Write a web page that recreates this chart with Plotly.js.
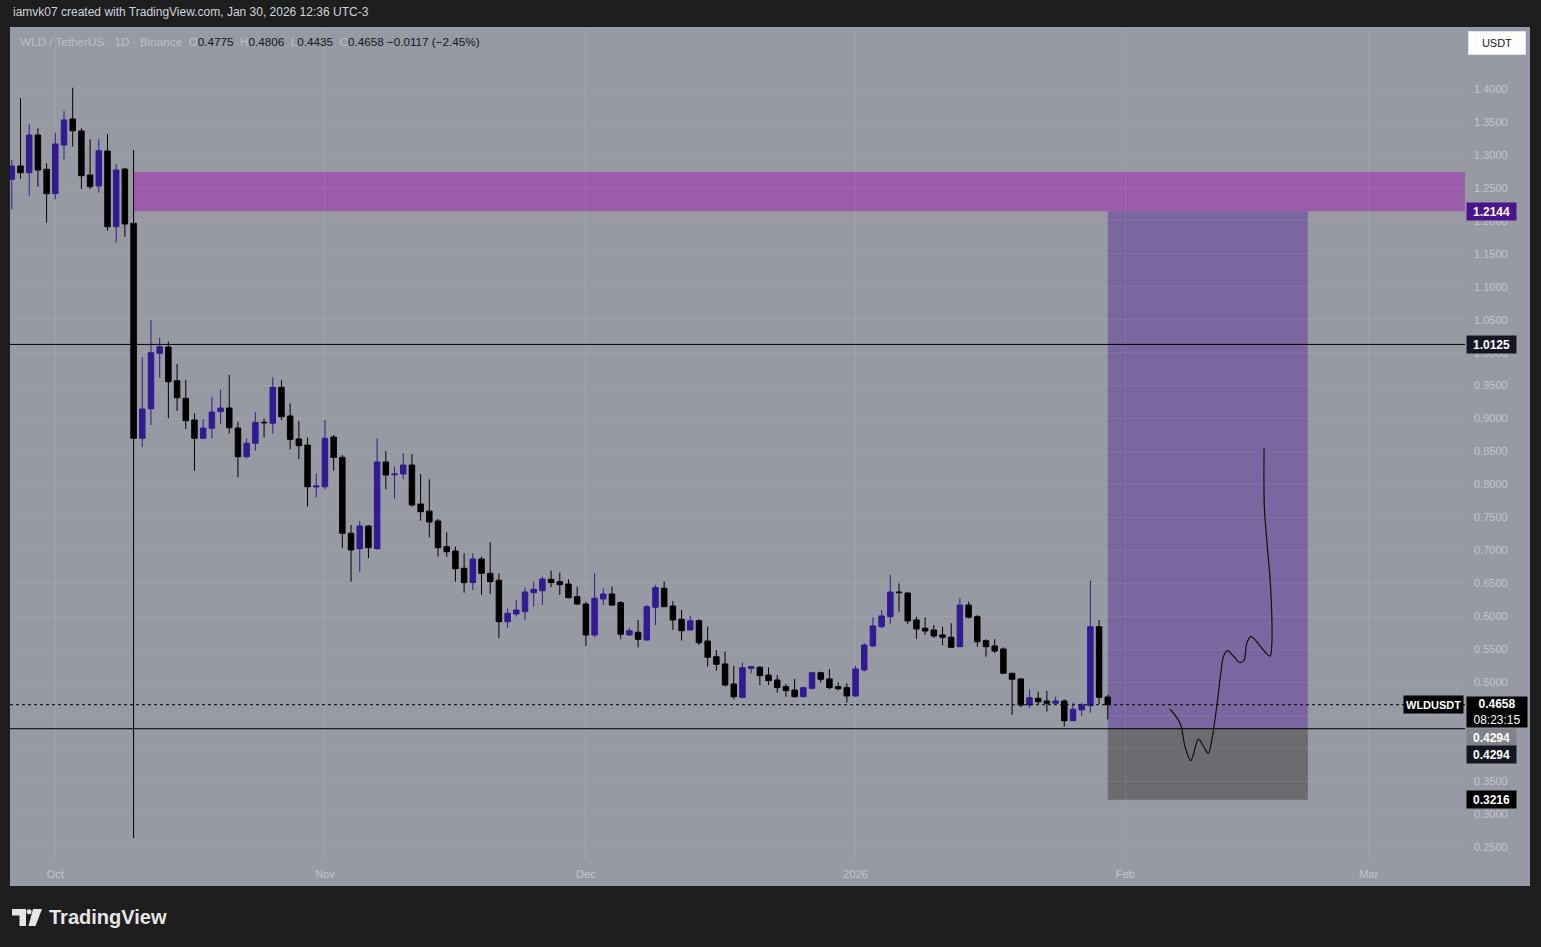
<!DOCTYPE html>
<html><head><meta charset="utf-8">
<script src="https://cdn.plot.ly/plotly-3.0.1.min.js"></script>
<style>html,body{margin:0;padding:0;background:#1e1e1e;overflow:hidden}#chart{width:1541px;height:947px}</style>
</head><body><div id="chart"></div>
<script>
// ---- data ----
const dates = ['2025-09-26','2025-09-27','2025-09-28','2025-09-29','2025-09-30',
'2025-10-01','2025-10-02','2025-10-03','2025-10-04','2025-10-05','2025-10-06','2025-10-07','2025-10-08','2025-10-09','2025-10-10',
'2025-10-11','2025-10-12','2025-10-13','2025-10-14','2025-10-15','2025-10-16','2025-10-17','2025-10-18','2025-10-19','2025-10-20',
'2025-10-21','2025-10-22','2025-10-23','2025-10-24','2025-10-25','2025-10-26','2025-10-27','2025-10-28','2025-10-29','2025-10-30','2025-10-31',
'2025-11-01','2025-11-02','2025-11-03','2025-11-04','2025-11-05','2025-11-06','2025-11-07','2025-11-08','2025-11-09','2025-11-10',
'2025-11-11','2025-11-12','2025-11-13','2025-11-14','2025-11-15','2025-11-16','2025-11-17','2025-11-18','2025-11-19','2025-11-20',
'2025-11-21','2025-11-22','2025-11-23','2025-11-24','2025-11-25','2025-11-26','2025-11-27','2025-11-28','2025-11-29','2025-11-30',
'2025-12-01','2025-12-02','2025-12-03','2025-12-04','2025-12-05','2025-12-06','2025-12-07','2025-12-08','2025-12-09','2025-12-10',
'2025-12-11','2025-12-12','2025-12-13','2025-12-14','2025-12-15','2025-12-16','2025-12-17','2025-12-18','2025-12-19','2025-12-20',
'2025-12-21','2025-12-22','2025-12-23','2025-12-24','2025-12-25','2025-12-26','2025-12-27','2025-12-28','2025-12-29','2025-12-30','2025-12-31',
'2026-01-01','2026-01-02','2026-01-03','2026-01-04','2026-01-05','2026-01-06','2026-01-07','2026-01-08','2026-01-09','2026-01-10',
'2026-01-11','2026-01-12','2026-01-13','2026-01-14','2026-01-15','2026-01-16','2026-01-17','2026-01-18','2026-01-19','2026-01-20',
'2026-01-21','2026-01-22','2026-01-23','2026-01-24','2026-01-25','2026-01-26','2026-01-27','2026-01-28','2026-01-29','2026-01-30'];

const open = [1.2630,1.2832,1.2730,1.3302,1.2782,
1.2412,1.3150,1.3545,1.3363,1.2695,1.2528,1.3059,1.1911,1.2786,1.1962,
0.8700,0.9149,0.9990,1.0086,0.9574,0.9307,0.8978,0.8700,0.8852,0.9104,
0.9160,0.8857,0.8421,0.8625,0.8943,0.8928,0.9474,0.9039,0.8690,0.8598,0.7962,
0.7966,0.8720,0.8412,0.7259,0.7025,0.7370,0.7025,0.8341,0.8148,0.8159,
0.8295,0.7704,0.7597,0.7446,0.7056,0.6990,0.6728,0.6510,0.6869,0.6652,
0.6546,0.5918,0.6035,0.6070,0.6358,0.6388,0.6561,0.6525,0.6490,0.6297,
0.6186,0.5716,0.6262,0.6338,0.6206,0.5716,0.5757,0.5640,0.6137,0.6425,
0.6156,0.5954,0.5792,0.5933,0.5625,0.5387,0.5277,0.4973,0.4770,0.5210,
0.5226,0.5109,0.5033,0.4932,0.4881,0.4780,0.4907,0.5144,0.5049,0.4932,0.4917,
0.4791,0.5185,0.5549,0.5843,0.5994,0.6368,0.6353,0.5944,0.5818,0.5792,
0.5716,0.5681,0.5539,0.6171,0.5994,0.5630,0.5549,0.5504,0.5135,0.5049,
0.4654,0.4755,0.4715,0.4680,0.4715,0.4416,0.4579,0.4643,0.5842,0.4775];

const high = [1.2923,1.3859,1.3469,1.3404,1.2873,
1.3337,1.3666,1.4020,1.3404,1.3237,1.3237,1.3317,1.2862,1.2800,1.3075,
0.9929,1.0495,1.0227,1.0166,0.9828,0.9585,0.9080,0.8993,0.9332,0.9433,
0.9661,0.8952,0.8700,0.9095,0.9004,0.9626,0.9585,0.9231,0.8963,0.8710,0.8169,
0.8978,0.8750,0.8447,0.7385,0.7446,0.7385,0.8700,0.8508,0.8270,0.8473,
0.8462,0.8159,0.8078,0.7476,0.7274,0.7056,0.6956,0.6956,0.6904,0.7123,
0.6652,0.6121,0.6247,0.6440,0.6525,0.6601,0.6692,0.6661,0.6561,0.6449,
0.6221,0.6652,0.6425,0.6449,0.6232,0.5827,0.5944,0.6171,0.6475,0.6525,
0.6232,0.6095,0.6005,0.5954,0.5842,0.5489,0.5463,0.5246,0.5296,0.5246,
0.5246,0.5226,0.5109,0.4973,0.5049,0.4930,0.5160,0.5160,0.5200,0.4999,0.4983,
0.5246,0.5590,0.5985,0.6095,0.6627,0.6500,0.6364,0.5994,0.5985,0.5868,
0.5842,0.5894,0.6273,0.6221,0.6020,0.5651,0.5651,0.5529,0.5140,0.5059,
0.4892,0.4856,0.4867,0.4780,0.4740,0.4689,0.4689,0.6540,0.5944,0.4806];

const low = [1.2175,1.2635,1.2381,1.2518,1.1972,
1.2327,1.2933,1.3125,1.2483,1.2483,1.2427,1.1850,1.1668,1.1759,0.2636,
0.8564,0.8902,0.9620,0.9004,0.9115,0.8842,0.8209,0.8690,0.8700,0.8917,
0.8776,0.8109,0.8397,0.8512,0.8716,0.8776,0.8978,0.8534,0.8382,0.7663,0.7805,
0.7927,0.8209,0.7032,0.6525,0.6677,0.6880,0.7010,0.7927,0.7784,0.8083,
0.7663,0.7450,0.7198,0.6904,0.6904,0.6525,0.6358,0.6399,0.6323,0.6338,
0.5666,0.5827,0.5994,0.5944,0.6146,0.6171,0.6440,0.6323,0.6273,0.6171,
0.5549,0.5681,0.6171,0.6156,0.5651,0.5701,0.5529,0.5630,0.5868,0.6137,
0.5792,0.5630,0.5781,0.5564,0.5235,0.5174,0.4932,0.4741,0.4756,0.5135,
0.4957,0.4957,0.4841,0.4780,0.4770,0.4770,0.4892,0.4992,0.4892,0.4871,0.4689,
0.4780,0.5160,0.5539,0.5818,0.5883,0.6070,0.5883,0.5656,0.5716,0.5671,
0.5564,0.5524,0.5529,0.5969,0.5539,0.5387,0.5439,0.5124,0.4502,0.4619,
0.4604,0.4669,0.4553,0.4666,0.4325,0.4411,0.4487,0.4537,0.4669,0.4435];

const close = [1.2832,1.2730,1.3302,1.2771,1.2412,
1.3166,1.3530,1.3367,1.2685,1.2518,1.3064,1.1911,1.2771,1.1952,0.8700,
0.9145,0.9999,1.0090,0.9559,0.9316,0.8967,0.8700,0.8857,0.9099,0.9160,
0.8861,0.8421,0.8625,0.8943,0.8937,0.9474,0.9028,0.8685,0.8588,0.7966,0.7977,
0.8700,0.8409,0.7259,0.7006,0.7370,0.7041,0.8341,0.8144,0.8159,0.8295,
0.7688,0.7587,0.7431,0.7041,0.6980,0.6722,0.6510,0.6869,0.6652,0.6525,
0.5918,0.6045,0.6095,0.6368,0.6409,0.6566,0.6510,0.6479,0.6282,0.6186,
0.5716,0.6273,0.6338,0.6171,0.5727,0.5781,0.5651,0.6146,0.6434,0.6146,
0.5944,0.5781,0.5933,0.5599,0.5378,0.5272,0.4957,0.4780,0.5220,0.5235,
0.5099,0.5023,0.4917,0.4871,0.4780,0.4917,0.5144,0.5044,0.4917,0.4901,0.4791,
0.5200,0.5564,0.5853,0.6005,0.6368,0.6359,0.5929,0.5807,0.5777,0.5701,
0.5681,0.5529,0.6171,0.5985,0.5614,0.5539,0.5473,0.5135,0.5044,0.4654,
0.4765,0.4704,0.4680,0.4715,0.4416,0.4589,0.4654,0.5842,0.4770,0.4658];

const monthTicks = ['2025-10-01','2025-11-01','2025-12-01','2026-01-01','2026-02-01','2026-03-01'];
const monthLabels = ['Oct','Nov','Dec','2026','Feb','Mar'];
// price-scale labels visible in the reference (0.4000 and 0.4500 are hidden under the price tags)
const priceTicks = [0.25,0.30,0.35,0.50,0.55,0.60,0.65,0.70,0.75,0.80,0.85,0.90,0.95,1.00,1.05,1.10,1.15,1.20,1.25,1.30,1.35,1.40];
const hiddenPriceGrid = [0.40,0.45];

const zoneStart = '2025-10-10';
const zoneLow = 1.2144, zoneHigh = 1.2742;
const levelLine = 1.0125;
const posStart = '2026-01-30', posEnd = '2026-02-22';
const entry = 0.4294, target = 1.2144, stop = 0.3216;
const lastPrice = 0.4658;
const change = '−0.0117 (−2.45%)';
const countdown = '08:23:15';

const drawX = ['2026-02-06 04:00','2026-02-07 07:30','2026-02-07 21:20','2026-02-08 13:00','2026-02-09 00:50',
'2026-02-09 10:00','2026-02-09 23:45','2026-02-10 13:30','2026-02-10 22:50','2026-02-11 12:40','2026-02-11 23:45',
'2026-02-12 07:00','2026-02-12 18:00','2026-02-13 10:30','2026-02-14 05:00','2026-02-14 16:00','2026-02-14 23:30',
'2026-02-15 10:30','2026-02-16 03:00','2026-02-16 21:20','2026-02-17 15:50','2026-02-17 20:20','2026-02-17 17:45',
'2026-02-17 06:40','2026-02-17 00:00','2026-02-16 23:15'];
const drawY = [0.4589,0.4376,0.4021,0.3809,0.3997,0.4138,0.4032,0.3921,0.4123,0.4628,0.5135,
0.5387,0.5478,0.5397,0.5296,0.5337,0.5590,0.5690,0.5614,0.5489,0.5397,0.5539,0.6399,
0.7157,0.7663,0.8549];

// ---- layout geometry ----
const L = 10, R = 1465, T = 27, B = 860;
const px = x => (x - L) / (R - L);
const py = y => (B - y) / (B - T);
const xRange = ['2025-09-25 19:00', '2026-03-12 01:40'];
const yRange = [0.2302, 1.4941];

const GRAY = '#989aa3';
const GRID = 'rgba(255,255,255,0.07)';
const FONT = 'Liberation Sans, Arial, sans-serif';

const traces = [
  {
    type: 'candlestick', x: dates, open: open, high: high, low: low, close: close,
    increasing: {line: {color: '#311b92', width: 1}, fillcolor: '#311b92'},
    decreasing: {line: {color: '#000000', width: 1}, fillcolor: '#000000'},
    whiskerwidth: 0, hoverinfo: 'skip', showlegend: false
  },
  {
    type: 'scatter', mode: 'lines', x: drawX, y: drawY,
    line: {color: '#111111', width: 1.2, shape: 'spline', smoothing: 1},
    hoverinfo: 'skip', showlegend: false
  }
];

function P(pts) {
  return 'M' + pts.map(p => px(p[0]) + ',' + py(p[1])).join(' L') + ' Z';
}

const shapes = [
  {type: 'rect', xref: 'paper', yref: 'paper', x0: 0, x1: px(1530), y0: py(886), y1: 1,
   fillcolor: GRAY, line: {width: 0}, layer: 'below'},
  {type: 'rect', xref: 'x', yref: 'y', x0: zoneStart, x1: xRange[1], y0: zoneLow, y1: zoneHigh,
   fillcolor: '#9b5ca9', line: {width: 0}, layer: 'below'},
  {type: 'rect', xref: 'x', yref: 'y', x0: posStart, x1: posEnd, y0: entry, y1: target,
   fillcolor: '#7a679f', line: {width: 0}, layer: 'below'},
  {type: 'rect', xref: 'x', yref: 'y', x0: posStart, x1: posEnd, y0: stop, y1: entry,
   fillcolor: '#6b6c70', line: {width: 0}, layer: 'below'},
  {type: 'line', xref: 'paper', yref: 'y', x0: 0, x1: 1, y0: levelLine, y1: levelLine,
   line: {color: '#000000', width: 1}},
  {type: 'line', xref: 'paper', yref: 'y', x0: 0, x1: 1, y0: entry, y1: entry,
   line: {color: '#000000', width: 1}},
  {type: 'line', xref: 'paper', yref: 'y', x0: 0, x1: 1, y0: lastPrice, y1: lastPrice,
   line: {color: '#000000', width: 1, dash: 'dot'}},
  // TradingView logo
  {type: 'path', xref: 'paper', yref: 'paper', path: P([[12,909],[26,909],[26,926],[19.5,926],[19.5,915.5],[12,915.5]]),
   fillcolor: '#e6e6e6', line: {width: 0}},
  {type: 'circle', xref: 'paper', yref: 'paper', x0: px(26.6), x1: px(31.6), y0: py(914.2), y1: py(909.2),
   fillcolor: '#e6e6e6', line: {width: 0}},
  {type: 'path', xref: 'paper', yref: 'paper', path: P([[33,909],[42,909],[35.5,926],[28.5,926]]),
   fillcolor: '#e6e6e6', line: {width: 0}}
];

const faint = '#bdbfc7';
const dark = '#131722';
const sp = '\u00a0';
const num = v => `<span style="color:${dark}">${v.toFixed(4)}</span>`;
const legendText =
  `WLD / TetherUS · 1D · Binance${sp}${sp}O` + num(open[open.length-1]) +
  `${sp}${sp}H` + num(high[high.length-1]) +
  `${sp}${sp}L` + num(low[low.length-1]) +
  `${sp}${sp}C` + num(close[close.length-1]) +
  `<span style="color:${dark}">${sp}${change}</span>`;

function priceLabel(text, y, bg, opts) {
  return Object.assign({
    xref: 'paper', yref: 'y', x: px(1466), y: y, xanchor: 'left', yanchor: 'middle',
    text: text, showarrow: false, bgcolor: bg, borderpad: 2, width: 45, height: 13,
    font: {family: FONT, size: 12, color: '#ffffff'}, align: 'center'
  }, opts || {});
}

const annotations = [
  {xref: 'paper', yref: 'paper', x: px(11), y: py(12), xanchor: 'left', yanchor: 'middle', showarrow: false,
   text: 'iamvk07 created with TradingView.com, Jan 30, 2026 12:36 UTC-3',
   font: {family: FONT, size: 12, color: '#d1d4dc'}},
  {xref: 'paper', yref: 'paper', x: px(18), y: py(41), xanchor: 'left', yanchor: 'middle', showarrow: false,
   text: legendText, font: {family: FONT, size: 11.7, color: faint}},
  {xref: 'paper', yref: 'paper', x: px(1497), y: py(43), xanchor: 'center', yanchor: 'middle', showarrow: false,
   text: 'USDT', bgcolor: '#ffffff', bordercolor: '#e0e3eb', borderwidth: 1, borderpad: 3, width: 50, height: 16,
   font: {family: FONT, size: 11, color: '#131722'}},
  priceLabel('<b>' + target.toFixed(4) + '</b>', target, '#4a148c'),
  priceLabel('<b>' + levelLine.toFixed(4) + '</b>', levelLine, dark),
  priceLabel('<b>' + entry.toFixed(4) + '</b>', entry, '#80838c', {yanchor: 'top', yshift: 1}),
  priceLabel('<b>' + entry.toFixed(4) + '</b>', entry, dark, {yanchor: 'top', yshift: -16}),
  priceLabel('<b>' + stop.toFixed(4) + '</b>', stop, '#000000'),
  priceLabel('<b>' + lastPrice.toFixed(4) + '</b><br>' + countdown, lastPrice, '#000000',
    {yanchor: 'top', yshift: 9, width: 56, height: 26}),
  {xref: 'paper', yref: 'y', x: 1, y: lastPrice, xanchor: 'right', yanchor: 'middle', xshift: -1, showarrow: false,
   text: '<b>WLDUSDT</b>', bgcolor: '#000000', borderpad: 2, height: 13,
   font: {family: FONT, size: 11, color: '#ffffff'}},
  {xref: 'paper', yref: 'paper', x: px(47), y: py(917), xanchor: 'left', yanchor: 'middle', showarrow: false,
   text: '<b>TradingView</b>', font: {family: FONT, size: 20, color: '#e6e6e6'}}
];

const layout = {
  width: 1541, height: 947,
  margin: {l: L, r: 1541 - R, t: T, b: 947 - B, pad: 0},
  paper_bgcolor: '#1e1e1e', plot_bgcolor: GRAY,
  font: {family: FONT},
  showlegend: false, hovermode: false, dragmode: false,
  boxgap: 0.3, boxgroupgap: 0.1,
  xaxis: {
    type: 'date', range: xRange, rangeslider: {visible: false},
    tickvals: monthTicks, ticktext: monthLabels,
    showgrid: true, gridcolor: GRID, gridwidth: 1,
    zeroline: false, showline: false, ticks: '', ticklabelstandoff: 6,
    tickfont: {family: FONT, size: 11, color: '#c3c5cc'}, fixedrange: true
  },
  yaxis: {
    side: 'right', range: yRange, tickmode: 'array', tickvals: priceTicks,
    ticktext: priceTicks.map(v => v.toFixed(4)),
    showgrid: true, gridcolor: GRID, gridwidth: 1,
    minor: {tickmode: 'array', tickvals: hiddenPriceGrid, showgrid: true, gridcolor: GRID, gridwidth: 1, ticks: ''},
    zeroline: false, showline: false, ticks: '', ticklabelstandoff: 8,
    tickfont: {family: FONT, size: 11, color: '#c3c5cc'}, fixedrange: true
  },
  shapes: shapes, annotations: annotations
};

Plotly.newPlot('chart', traces, layout, {staticPlot: true, displayModeBar: false});
</script>
</body></html>
